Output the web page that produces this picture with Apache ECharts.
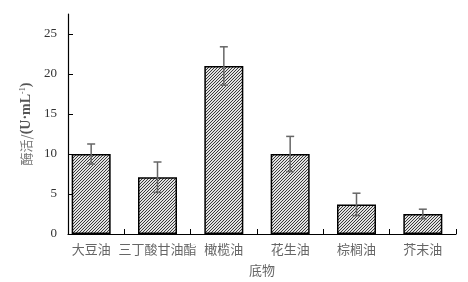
<!DOCTYPE html>
<html><head><meta charset="utf-8">
<script src="https://cdn.jsdelivr.net/npm/echarts@6/dist/echarts.min.js"></script>
<style>html,body{margin:0;padding:0;background:#fff}#c{width:468px;height:282px}</style>
</head><body><div id="c"></div>
<script>
var categories = ['大豆油','三丁酸甘油酯','橄榄油','花生油','棕榈油','芥末油'];
var values = [10.0, 7.1, 21.0, 10.0, 3.7, 2.5];
var errors = [1.25, 1.9, 2.4, 2.2, 1.4, 0.6];
var yTicks = [0, 5, 10, 15, 20, 25];

var pc = document.createElement('canvas');
pc.width = 3; pc.height = 3;
var g = pc.getContext('2d');
g.fillStyle = '#e2e2e2'; g.fillRect(0,0,3,3);
g.fillStyle = '#3a3a3a';
for (var i = 0; i < 3; i++) g.fillRect(i, 2 - i, 1, 1);

var chart = echarts.init(document.getElementById('c'));
var gTop = 14, gBottom = 48, gRight = 12;
chart.setOption({
  animation: false,
  grid: [
    {left: 58, right: gRight, top: gTop, bottom: gBottom},
    {left: 68, right: gRight, top: gTop, bottom: gBottom}
  ],
  xAxis: [
    {type: 'category', gridIndex: 0, data: categories,
     axisLine: {show: false},
     axisTick: {show: true, inside: true, length: 5, lineStyle: {color: '#000'},
                interval: function (idx) { return idx !== 0; }},
     axisLabel: {interval: 0, margin: 9, fontSize: 13, color: '#666', fontFamily: 'Noto Sans CJK SC'}},
    {type: 'value', gridIndex: 1, min: 0, max: 1,
     axisLine: {show: true, lineStyle: {color: '#000', width: 1.2}},
     axisTick: {show: false}, axisLabel: {show: false}, splitLine: {show: false},
     name: '底物', nameLocation: 'middle', nameGap: 30,
     nameTextStyle: {fontSize: 13, color: '#666', fontFamily: 'Noto Sans CJK SC'}}
  ],
  yAxis: [
    {type: 'value', gridIndex: 0, min: 0, max: 27.5, interval: 5, show: false},
    {type: 'value', gridIndex: 1, min: 0, max: 27.5, interval: 5,
     axisLine: {show: true, lineStyle: {color: '#000', width: 1.2}},
     axisTick: {show: true, inside: true, length: 5, lineStyle: {color: '#000'}},
     axisLabel: {margin: 11, fontSize: 13, color: '#333', fontFamily: 'Liberation Serif',
                 showMaxLabel: false,
                 formatter: function (v) { return yTicks.indexOf(v) >= 0 ? String(v) : ''; }},
     splitLine: {show: false},
     name: '{a|酶活/}{b|(U·mL}{c|-1}{b|)}', nameLocation: 'middle', nameGap: 34, nameRotate: 90,
     nameTextStyle: {color: '#777',
       rich: {
         a: {fontSize: 13, color: '#777', fontFamily: 'Noto Sans CJK SC'},
         b: {fontSize: 14, color: '#555', fontFamily: 'Liberation Serif', fontWeight: 'bold'},
         c: {fontSize: 8, color: '#555', fontFamily: 'Liberation Serif', verticalAlign: 'top', padding: [0,0,6,0]}
       }}}
  ],
  series: [
    {type: 'bar', xAxisIndex: 0, yAxisIndex: 0, data: values, barWidth: 39,
     itemStyle: {color: {image: pc, repeat: 'repeat'}, borderColor: '#000', borderWidth: 1.5}},
    {type: 'custom', xAxisIndex: 0, yAxisIndex: 0,
     data: values.map(function (v, i) { return [i, v - errors[i], v + errors[i]]; }),
     renderItem: function (params, api) {
       var lo = api.coord([api.value(0), api.value(1)]);
       var hi = api.coord([api.value(0), api.value(2)]);
       var w = 4;
       var st = {stroke: '#666', lineWidth: 1.5};
       return {type: 'group', children: [
         {type: 'line', shape: {x1: hi[0], y1: hi[1], x2: lo[0], y2: lo[1]}, style: st},
         {type: 'line', shape: {x1: hi[0]-w, y1: hi[1], x2: hi[0]+w, y2: hi[1]}, style: st},
         {type: 'line', shape: {x1: lo[0]-w, y1: lo[1], x2: lo[0]+w, y2: lo[1]}, style: st}
       ]};
     }, z: 5}
  ]
});
</script></body></html>
